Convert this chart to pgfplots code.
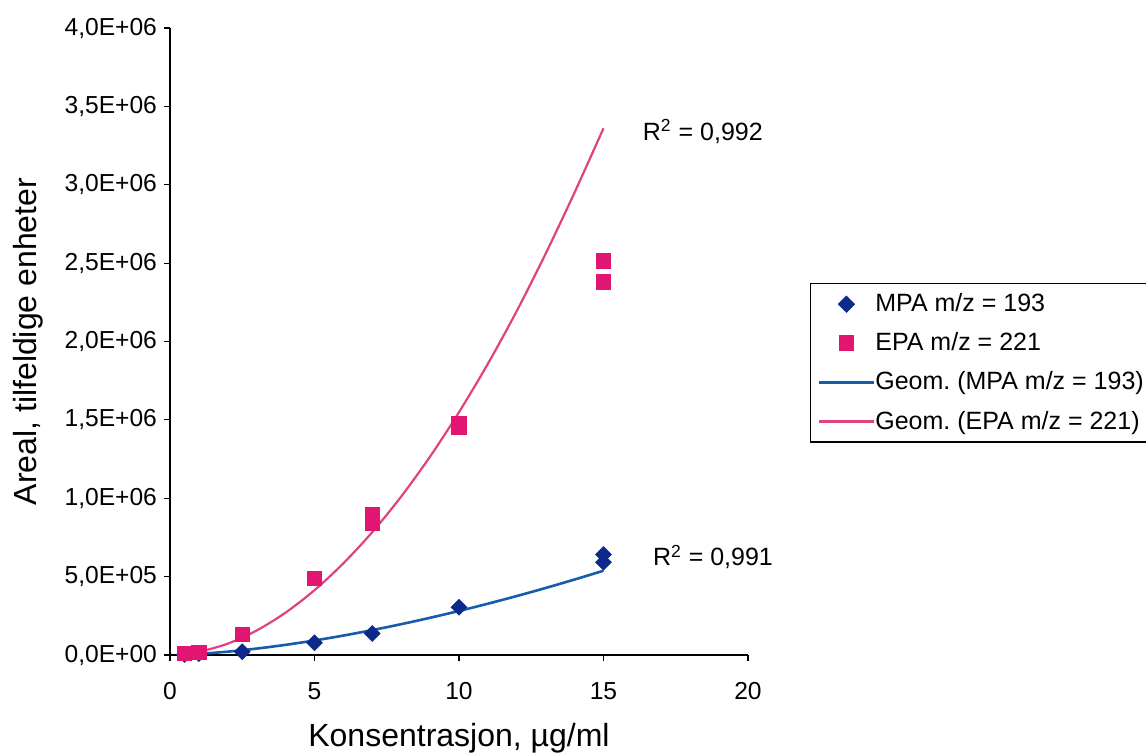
\documentclass[border=0pt]{standalone}
\usepackage{fontspec}
\setmainfont{Liberation Sans}
\usepackage{pgfplots}
\pgfplotsset{compat=1.18}
\frenchspacing

\definecolor{mpamark}{RGB}{12,42,140}
\definecolor{mpaline}{RGB}{22,92,172}
\definecolor{epamark}{RGB}{226,22,112}
\definecolor{epaline}{RGB}{222,66,128}

\begin{document}
\begin{tikzpicture}
\begin{axis}[
  scale only axis,
  width=289pt, height=313.5pt,
  xmin=0, xmax=20, ymin=0, ymax=4e6,
  axis x line*=bottom, axis y line*=left,
  axis line style={black, line width=0.7pt},
  tick align=outside,
  major tick length=3pt,
  tick style={black, line width=0.6pt},
  xtick={0,5,10,15,20},
  xticklabels={0,5,10,15,20},
  ytick={0,5e5,1e6,1.5e6,2e6,2.5e6,3e6,3.5e6,4e6},
  yticklabels={{0,0E+00},{5,0E+05},{1,0E+06},{1,5E+06},{2,0E+06},{2,5E+06},{3,0E+06},{3,5E+06},{4,0E+06}},
  scaled y ticks=false,
  ticklabel style={font=\fontsize{12.3}{14}\selectfont},
  xticklabel style={yshift=-7pt},
  xlabel={Konsentrasjon, µg/ml},
  ylabel={Areal, tilfeldige enheter},
  label style={font=\fontsize{16}{19}\selectfont},
  xlabel style={at={(rel axis cs:0.5,-0.1324)}, anchor=center},
  ylabel style={at={(rel axis cs:-0.2457,0.5)}, anchor=center},
  clip=false,
  legend style={
    at={(rel axis cs:1.107,0.5933)}, anchor=north west,
    draw=black, line width=0.6pt,
    font=\fontsize{12.5}{14.5}\selectfont,
    inner xsep=1pt, inner ysep=3pt,
    nodes={inner xsep=0.3pt},
    row sep=5pt,
    /tikz/every even column/.append style={column sep=2pt},
  },
  legend cell align=left,
  legend image code/.code={%
    \path (0cm,0cm);
    \draw[mark repeat=2, mark phase=2, #1]
      plot coordinates {(0.1cm,0cm) (0.575cm,0cm) (1.05cm,0cm)};},
]

% measured areas, MPA m/z = 193 (diamonds drawn as turned squares)
\addplot[only marks, mark=square*, mark size=2.75pt,
         mark options={rotate=45}, color=mpamark]
  coordinates {
  (0.5,3000) (1,8000) (2.5,21000) (5,78000) (7,137000)
  (10,305000) (15,592000) (15,641000)
  };
\addlegendentry{MPA m/z = 193}

% measured areas, EPA m/z = 221
\addplot[only marks, mark=square*, mark size=3.6pt, color=epamark]
  coordinates {
  (0.5,9000) (1,18000) (2.5,132000) (5,489000) (7,843000) (7,897000)
  (10,1455000) (10,1475000) (15,2381000) (15,2515000)
  };
\addlegendentry{EPA m/z = 221}

% power trend line through the MPA points
\addplot[smooth, no marks, color=mpaline, line width=1.3pt]
  coordinates {
  (0.5,2330) (1,7060) (2,21400) (3,40950) (4,64900) (5,92700)
  (6,124100) (7,158900) (8,196700) (9,237500) (10,281100)
  (11,327400) (12,376300) (13,427800) (14,481700) (15,537800)
  };
\addlegendentry{Geom.\ (MPA m/z = 193)}

% power trend line through the EPA points
\addplot[smooth, no marks, color=epaline, line width=1.1pt]
  coordinates {
  (0.5,5200) (1,19500) (2,72500) (3,156500) (4,270500) (5,413500)
  (6,585000) (7,784000) (8,1011000) (9,1266000) (10,1549000)
  (11,1858000) (12,2195000) (13,2561000) (14,2951000) (15,3360000)
  };
\addlegendentry{Geom.\ (EPA m/z = 221)}

\node[anchor=west, font=\fontsize{12.5}{14}\selectfont, inner sep=0pt]
  at (axis cs:16.35,3.34e6) {R\textsuperscript{2} = 0,992};
\node[anchor=west, font=\fontsize{12.5}{14}\selectfont, inner sep=0pt]
  at (axis cs:16.7,6.25e5) {R\textsuperscript{2} = 0,991};

\coordinate (bbsw) at (rel axis cs:-0.2941,-0.1595);
\coordinate (bbne) at (rel axis cs:1.6886,1.0447);
\end{axis}
\pgfresetboundingbox
\path[use as bounding box] (bbsw) rectangle (bbne);
\end{tikzpicture}
\end{document}
